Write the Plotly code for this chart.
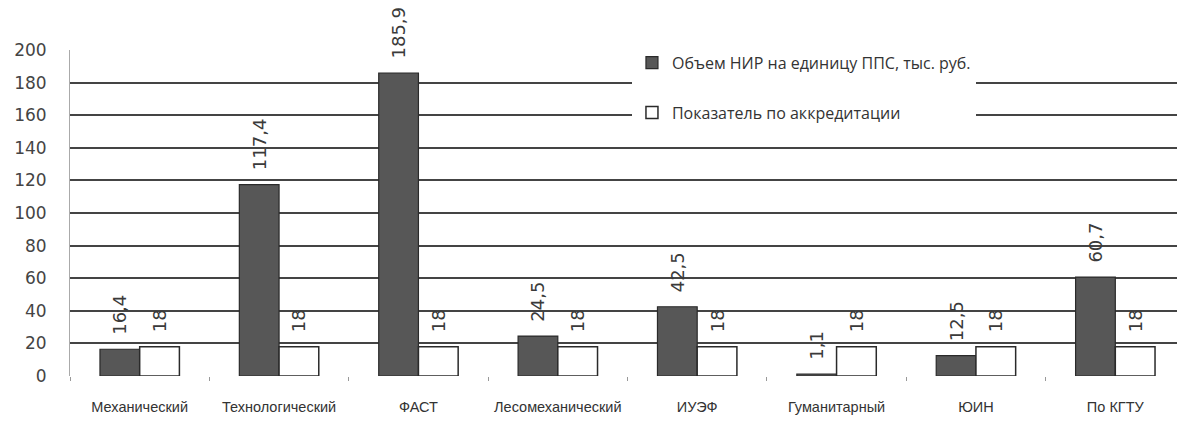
import plotly.graph_objects as go

categories = ["Механический", "Технологический", "ФАСТ", "Лесомеханический",
              "ИУЭФ", "Гуманитарный", "ЮИН", "По КГТУ"]
nir_values = [16.4, 117.4, 185.9, 24.5, 42.5, 1.1, 12.5, 60.7]
accred_values = [18, 18, 18, 18, 18, 18, 18, 18]
y_ticks = [0, 20, 40, 60, 80, 100, 120, 140, 160, 180, 200]

PAD = "\u00a0\u00a0"

def fmt(v):
    return PAD + ("%g" % v).replace(".", ",")

label_font = dict(family="DejaVu Sans, sans-serif", size=18, color="#3a3a3a")

fig = go.Figure()
fig.add_trace(go.Bar(
    x=categories, y=nir_values, name="Объем НИР на единицу ППС, тыс. руб.",
    marker=dict(color="#575757", line=dict(color="#2a2a2a", width=1.2)),
    text=[fmt(v) for v in nir_values], textposition="outside", textangle=-90,
    constraintext="none", textfont=label_font,
    cliponaxis=False, legendgroup="a",
))
fig.add_trace(go.Bar(
    x=categories, y=accred_values, name="Показатель по аккредитации",
    marker=dict(color="white", line=dict(color="#2a2a2a", width=1.5)),
    text=[fmt(v) for v in accred_values], textposition="outside", textangle=-90,
    constraintext="none", textfont=label_font,
    cliponaxis=False, legendgroup="b",
))

fig.update_layout(
    width=1177, height=413,
    margin=dict(l=62, r=0, t=42, b=45),
    paper_bgcolor="white", plot_bgcolor="white",
    barmode="group", bargap=0.43, bargroupgap=0,
    font=dict(family="Liberation Sans, Arial, sans-serif", color="#333"),
    legend=dict(
        x=0.504, y=1.013, xanchor="left", yanchor="top",
        bgcolor="white", borderwidth=0,
        font=dict(family="Open Sans, Noto Sans, sans-serif", size=16, color="#333"),
        tracegroupgap=26, itemwidth=30, entrywidth=370,
    ),
    xaxis=dict(
        showgrid=False, showline=False, zeroline=False,
        ticks="outside", tickson="boundaries", ticklen=4, tickcolor="#999",
        tickfont=dict(size=14.5, color="#333"), ticklabelstandoff=20,
    ),
    yaxis=dict(
        range=[0, 200], tickvals=y_ticks,
        showgrid=True, gridcolor="#444", gridwidth=1.5,
        zeroline=False, showline=True, linecolor="#aaa", linewidth=1,
        tickfont=dict(family="DejaVu Sans, sans-serif", size=17, color="#444"),
        ticklabelstandoff=19,
    ),
)

fig.write_html("out.html")
